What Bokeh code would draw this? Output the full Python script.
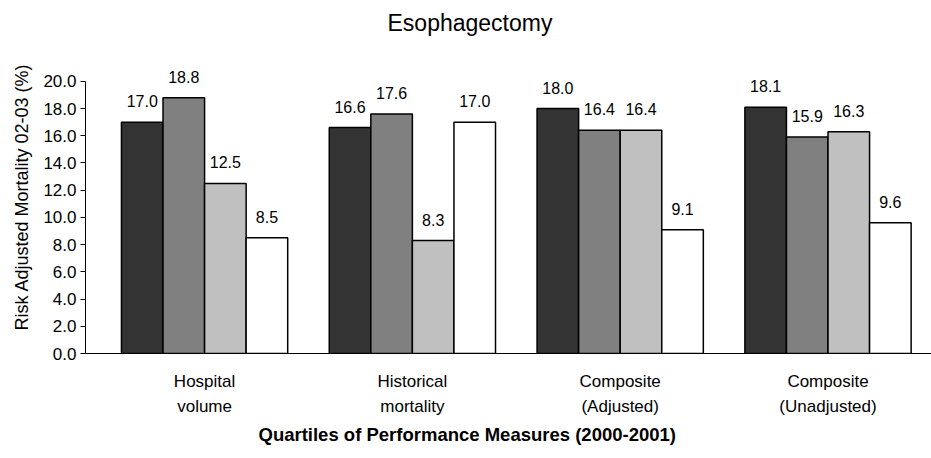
from bokeh.plotting import figure
from bokeh.models import ColumnDataSource, LabelSet, Title, FixedTicker, NumeralTickFormatter
from bokeh.core.properties import value
from bokeh.embed import file_html
from bokeh.resources import INLINE

categories = ["Hospital\nvolume", "Historical\nmortality", "Composite\n(Adjusted)", "Composite\n(Unadjusted)"]
quartile1 = [17.0, 16.6, 18.0, 18.1]
quartile2 = [18.8, 17.6, 16.4, 15.9]
quartile3 = [12.5, 8.3, 16.4, 16.3]
quartile4 = [8.5, 17.0, 9.1, 9.6]
series = [quartile1, quartile2, quartile3, quartile4]
colors = ["#333333", "#808080", "#c0c0c0", "#ffffff"]
offsets = [-0.3, -0.1, 0.1, 0.3]
y_ticks = [0, 2, 4, 6, 8, 10, 12, 14, 16, 18, 20]

FONT = "Liberation Sans"

p = figure(width=931, height=458, output_backend="svg", toolbar_location=None,
           x_range=(-0.573, 3.498), y_range=(0, 23.0),
           min_border_left=85, min_border_right=0, min_border_top=40, min_border_bottom=105)
p.outline_line_color = None
p.xgrid.visible = False
p.ygrid.visible = False
p.background_fill_color = "white"
p.border_fill_color = "white"

idx = list(range(len(categories)))
for vals, col, off in zip(series, colors, offsets):
    src = ColumnDataSource(dict(x=[i + off for i in idx], top=vals,
                                lab=["%.1f" % v for v in vals]))
    p.vbar(x="x", top="top", width=0.2, bottom=0, source=src,
           fill_color=col, line_color="black", line_width=1.5)
    p.add_layout(LabelSet(x="x", y="top", text="lab", source=src, y_offset=15,
                          text_align="center", text_baseline="alphabetic",
                          text_font=value(FONT), text_font_size="16px", text_color="black"))

# y axis
yax = p.yaxis[0]
yax.ticker = FixedTicker(ticks=y_ticks)
yax.formatter = NumeralTickFormatter(format="0.0")
yax.bounds = (0, 20)
yax.minor_tick_line_color = None
yax.major_tick_in = 0
yax.major_tick_out = 5
yax.axis_line_color = "black"
yax.major_tick_line_color = "black"
yax.major_label_text_font = FONT
yax.major_label_text_font_size = "17px"
yax.major_label_text_color = "black"
yax.major_label_standoff = 4
yax.axis_label = "Risk Adjusted Mortality 02-03 (%)"
yax.axis_label_text_font = FONT
yax.axis_label_text_font_size = "18px"
yax.axis_label_text_font_style = "normal"
yax.axis_label_text_color = "black"
yax.axis_label_standoff = 8

# x axis
xax = p.xaxis[0]
xax.ticker = FixedTicker(ticks=idx)
xax.major_label_overrides = {i: c for i, c in zip(idx, categories)}
xax.major_tick_line_color = None
xax.minor_tick_line_color = None
xax.axis_line_color = "black"
xax.major_label_text_font = FONT
xax.major_label_text_font_size = "17px"
xax.major_label_text_line_height = 1.35
xax.major_label_text_color = "black"
xax.major_label_standoff = 12

p.title = Title(text="Esophagectomy", align="left", offset=302,
                text_font=FONT, text_font_size="23px", text_font_style="normal",
                text_color="black")
p.add_layout(Title(text="Quartiles of Performance Measures (2000-2001)", align="left",
                   offset=173, text_font=FONT, text_font_size="18.5px",
                   text_font_style="bold", text_color="black", standoff=4), "below")

open("out.html", "w").write(file_html(p, INLINE))
